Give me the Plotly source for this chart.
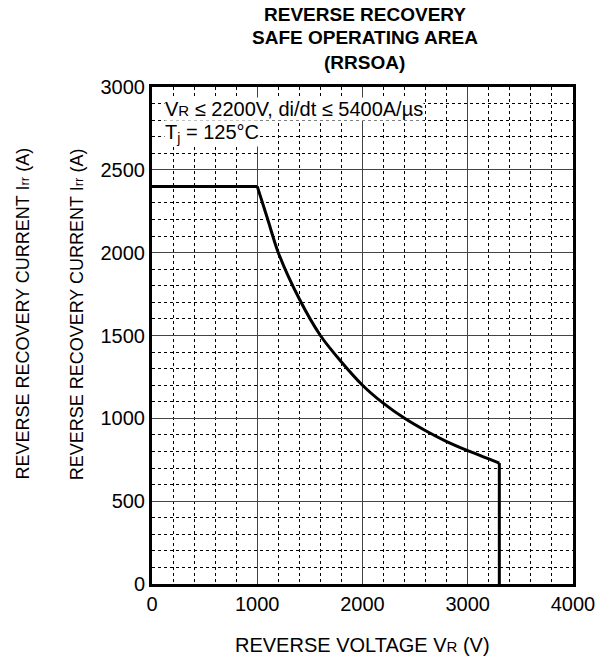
import plotly.graph_objects as go

# Data
voltage_v = [0, 1000, 1100, 1200, 1400, 1600, 1800, 2000, 2200, 2400, 2600, 2800, 3000, 3200, 3300, 3300]
current_a = [2400, 2400, 2200, 2000, 1720, 1500, 1340, 1200, 1090, 1000, 925, 860, 805, 755, 730, 0]
x_ticks = [0, 1000, 2000, 3000, 4000]
y_ticks = [0, 500, 1000, 1500, 2000, 2500, 3000]
title_lines = ["REVERSE RECOVERY", "SAFE OPERATING AREA", "(RRSOA)"]

FONT = "Liberation Sans, Arial, sans-serif"
W, H = 607, 659
L, R, T, B = 152, 32, 87, 75
PW, PH = W - L - R, H - T - B


def px(x):
    return (x - L) / PW


def py(y):
    return (H - B - y) / PH


fig = go.Figure()
line_style = dict(color="black", width=3)
# flat limit, curved boundary (smooth), vertical drop
segments = [(slice(0, 2), "linear"), (slice(1, 15), "spline"), (slice(14, 16), "linear")]
for sl, shape in segments:
    fig.add_trace(go.Scatter(x=voltage_v[sl], y=current_a[sl], mode="lines",
                             line=dict(shape=shape, smoothing=0.8 if shape == "spline" else None, **line_style),
                             showlegend=False, hoverinfo="skip"))

fig.update_layout(
    width=W, height=H,
    margin=dict(l=L, r=R, t=T, b=B),
    paper_bgcolor="white", plot_bgcolor="white",
    font=dict(family=FONT, color="black", size=20),
)

common = dict(ticks="", showline=True, mirror=True, linecolor="black", linewidth=3,
              showgrid=True, gridcolor="#444", gridwidth=1, zeroline=False,
              tickfont=dict(size=20))
fig.update_xaxes(range=[0, 4000], tickvals=x_ticks, **common,
                 minor=dict(dtick=200, showgrid=True, gridcolor="black", griddash="3px,3px", gridwidth=1))
fig.update_yaxes(range=[0, 3000], tickvals=y_ticks, **common,
                 minor=dict(dtick=100, showgrid=True, gridcolor="black", griddash="3px,3px", gridwidth=1))

for i, line in enumerate(title_lines):
    fig.add_annotation(text="<b>" + line + "</b>", xref="paper", yref="paper",
                       x=px(366), y=py(14 + 24 * i), showarrow=False,
                       xanchor="center", yanchor="middle", font=dict(size=19))

ylab = "REVERSE RECOVERY CURRENT I<span style='font-size:13px'>rr</span> (A)"
for xp in [22, 77]:
    fig.add_annotation(text=ylab, xref="paper", yref="paper", x=px(xp), y=py(314),
                       textangle=-90, showarrow=False, font=dict(size=18),
                       xanchor="center", yanchor="middle")

fig.add_annotation(text="REVERSE VOLTAGE V<span style='font-size:15px'>R</span> (V)",
                   xref="paper", yref="paper", x=px(363), y=py(645), showarrow=False,
                   font=dict(size=20), xanchor="center", yanchor="middle")

fig.add_annotation(text="V<span style='font-size:15px'>R</span> ≤ 2200V, di/dt ≤ 5400A/µs",
                   xref="paper", yref="paper", x=px(164), y=py(109),
                   xanchor="left", yanchor="middle", showarrow=False, bgcolor="white",
                   font=dict(size=20), borderpad=0)
fig.add_annotation(text="T<sub>j</sub> = 125°C",
                   xref="paper", yref="paper", x=px(164), y=py(134),
                   xanchor="left", yanchor="middle", showarrow=False, bgcolor="white",
                   font=dict(size=20), borderpad=0)

fig.write_html("out.html", config={"displayModeBar": False},
               post_script="document.body.style.margin='0';document.body.style.overflow='hidden';")
